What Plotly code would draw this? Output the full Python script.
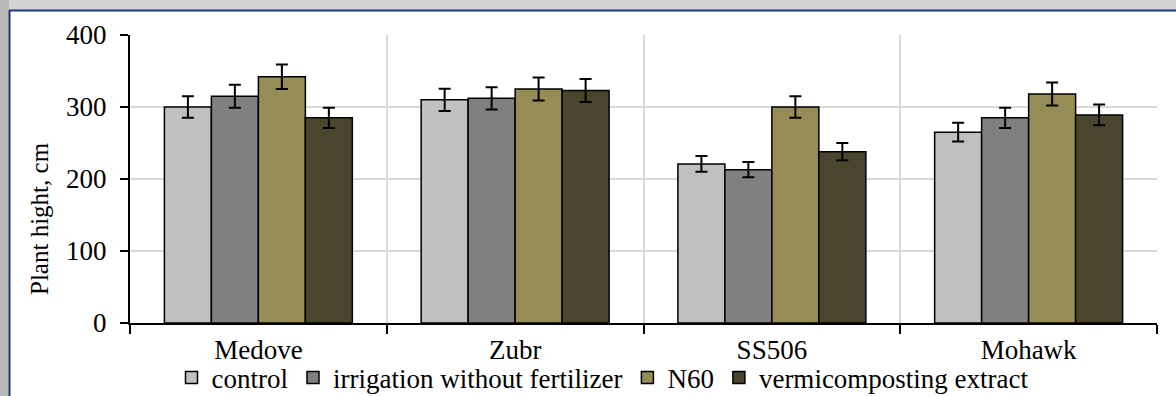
import plotly.graph_objects as go

W, H = 1176, 396
categories = ["Medove", "Zubr", "SS506", "Mohawk"]
series_names = ["control", "irrigation without fertilizer", "N60", "vermicomposting extract"]
control = [300, 310, 221, 265]
irrigation = [315, 312, 213, 285]
n60 = [342, 325, 300, 318]
vermi = [285, 323, 238, 289]
control_err = [15, 15.5, 11, 13]
irrigation_err = [16, 15.5, 10.5, 14]
n60_err = [17, 16, 15, 16]
vermi_err = [14, 16, 12, 14.5]
y_ticks = [0, 100, 200, 300, 400]

colors = ["#C0C0C0", "#808080", "#968C55", "#4A452D"]
values = [control, irrigation, n60, vermi]
errors = [control_err, irrigation_err, n60_err, vermi_err]

FONT = "Liberation Serif"
fig = go.Figure()
for name, vals, errs, col in zip(series_names, values, errors, colors):
    fig.add_trace(go.Bar(
        x=categories, y=vals, name=name,
        marker=dict(color=col, line=dict(color="black", width=1.5)),
        error_y=dict(type="data", array=errs, visible=True, color="black", thickness=2, width=6),
    ))

x0, x1 = 130, 1157
ytop, ybot = 35, 323
fig.update_layout(
    width=W, height=H,
    margin=dict(l=0, r=0, t=0, b=0, autoexpand=False),
    paper_bgcolor="white", plot_bgcolor="white",
    barmode="group", bargap=0.268, bargroupgap=0,
    font=dict(family=FONT, color="black", size=26),
    showlegend=True,
    legend=dict(orientation="h", x=603 / W, xanchor="center", y=1 - 378 / H, yanchor="middle",
                font=dict(size=27, family=FONT), bgcolor="rgba(0,0,0,0)",
                itemwidth=30, traceorder="normal", tracegroupgap=0),
    xaxis=dict(domain=[x0 / W, x1 / W], type="category", tickson="boundaries",
               showgrid=True, gridcolor="#D9D9D9", gridwidth=2,
               showline=True, linecolor="black", linewidth=2,
               ticks="outside", ticklen=9, tickwidth=2, tickcolor="black",
               tickfont=dict(size=27, family=FONT), automargin=False, ticklabelstandoff=2),
    yaxis=dict(domain=[1 - ybot / H, 1 - ytop / H], range=[0, 400], tickvals=y_ticks,
               showgrid=True, gridcolor="#D9D9D9", gridwidth=2, zeroline=False,
               showline=True, linecolor="black", linewidth=2,
               ticks="outside", ticklen=8, tickwidth=2, tickcolor="black",
               tickfont=dict(size=27, family=FONT), automargin=False, ticklabelstandoff=8),
    annotations=[dict(text="Plant hight, cm", xref="paper", yref="paper", x=40 / W, y=1 - 219 / H,
                      xanchor="center", yanchor="middle", textangle=-90, showarrow=False,
                      font=dict(size=25, family=FONT, color="black"))],
)

# frame: shadow and navy border
fig.add_shape(type="rect", xref="paper", yref="paper", x0=0, x1=1, y0=1 - 10 / H, y1=1,
              fillcolor="#D4D4D4", line=dict(width=0), layer="below")
fig.add_shape(type="rect", xref="paper", yref="paper", x0=0, x1=9 / W, y0=0, y1=1,
              fillcolor="#B8B8B8", line=dict(width=0), layer="below")
fig.add_shape(type="line", xref="paper", yref="paper", x0=9 / W, x1=1, y0=1 - 10.5 / H, y1=1 - 10.5 / H,
              line=dict(color="#1F3A78", width=2))
fig.add_shape(type="line", xref="paper", yref="paper", x0=9.5 / W, x1=9.5 / W, y0=0, y1=1 - 10 / H,
              line=dict(color="#1F3A78", width=2))

fig.write_html("out.html", config={"displayModeBar": False},
               post_script="document.body.style.margin='0';document.body.style.overflow='hidden';")
